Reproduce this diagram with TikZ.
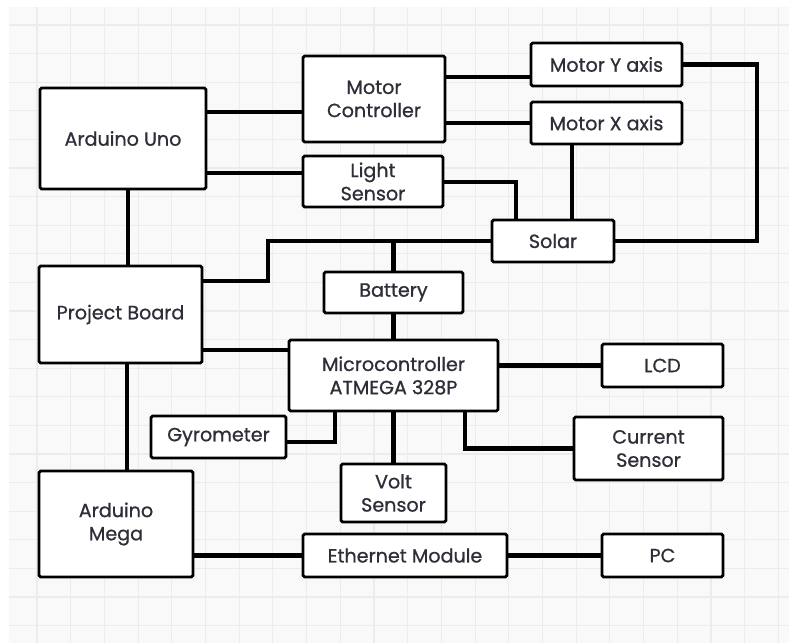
\documentclass[tikz,border=0pt]{standalone}
\usepackage{fontspec}
\setmainfont{Poppins}
\newfontfamily\boxfont{Poppins}[FakeBold=0.8]
\definecolor{bgcol}{HTML}{F9F9F9}
\definecolor{gridcol}{HTML}{ECECEC}
\definecolor{txtcol}{HTML}{2E2E38}
\tikzset{
    BX/.style 2 args ={rectangle, draw, fill=white, line width=2pt, rounded corners=1.2pt,
        minimum width=#1*0.025cm, minimum height=#2*0.025cm, inner sep=0pt,
        align=center, text=txtcol, font=\boxfont\fontsize{13.6}{16.5}\selectfont},
    LN/.style ={line width=3pt},
    GR/.style ={gridcol, line width=0.8pt}}
\begin{document}
\begin{tikzpicture}[x=0.025cm,y=-0.025cm]
        \useasboundingbox (0,0) rectangle (789,643);
        \fill[white] (0,0) rectangle (789,643);
        \fill[bgcol] (9,7) rectangle (789,643);
        \foreach \k in {0,...,22}{
            \draw[GR] (37+33.7*\k,7)--(37+33.7*\k,643);}
        \foreach \k in {0,...,21}{
            \draw[GR] (9,25+28.6*\k)--(789,25+28.6*\k);}
        % blocks
        \node[BX={166}{101}] (uno) at (123,138.5){Arduino Uno};
        \node[BX={142}{86}] (motctl) at (374,99){Motor\\Controller};
        \node[BX={140}{51}] (light) at (373,181.5){Light\\Sensor};
        \node[BX={151}{43}] (moty) at (606.5,64.5){Motor Y axis};
        \node[BX={151}{42}] (motx) at (606.5,123){Motor X axis};
        \node[BX={122}{42}] (solar) at (553,241){Solar};
        \node[BX={139}{41}] (battery) at (393.5,292.5){Battery};
        \node[BX={163}{97}] (board) at (120.5,314.5){Project Board};
        \node[BX={209}{71}] (micro) at (393.5,375.5){Microcontroller\\ATMEGA 328P};
        \node[BX={121}{43}] (lcd) at (662.5,365.5){LCD};
        \node[BX={149}{63}] (current) at (648.5,448.5){Current\\Sensor};
        \node[BX={135}{42}] (gyro) at (218.5,437){Gyrometer};
        \node[BX={105}{58}] (volt) at (393.5,493){Volt\\Sensor};
        \node[BX={154}{106}] (mega) at (116,524){Arduino\\Mega};
        \node[BX={204}{43}] (eth) at (405,555.5){Ethernet Module};
        \node[BX={121}{43}] (pc) at (662.5,555.5){PC};
        \coordinate (ybend) at (757,150);
        \coordinate (pbbend) at (268,260);
        % links
        \draw[LN] (uno.east|-0,112)--(motctl.west|-0,112);
        \draw[LN] (uno.east|-0,173)--(light.west|-0,173);
        \draw[LN] (motctl.east|-0,77)--(moty.west|-0,77);
        \draw[LN] (motctl.east|-motx.west)--(motx.west);
        \draw[LN] (motx.south-|572,0)--(solar.north-|572,0);
        \draw[LN] (light.east|-0,182)-|(solar.north-|516,0);
        \draw[LN] (moty.east)-|(ybend)|-(solar.east);
        \draw[LN] (uno.south-|128,0)--(board.north-|128,0);
        \draw[LN] (board.east|-0,281)-|(pbbend)|-(solar.west);
        \draw[LN] (battery.north)--(battery.north|-solar.west);
        \draw[LN] (battery.south)--(micro.north);
        \draw[LN] (board.east|-0,350)--(micro.west|-0,350);
        \draw[LN] (micro.east|-lcd.west)--(lcd.west);
        \draw[LN] (micro.south-|465,0)|-(current.west);
        \draw[LN] (micro.south-|335,0)|-(gyro.east|-0,442);
        \draw[LN] (micro.south)--(volt.north);
        \draw[LN] (board.south-|127,0)--(mega.north-|127,0);
        \draw[LN] (mega.east|-eth.west)--(eth.west);
        \draw[LN] (eth.east)--(pc.west);
    \end{tikzpicture}
\end{document}
